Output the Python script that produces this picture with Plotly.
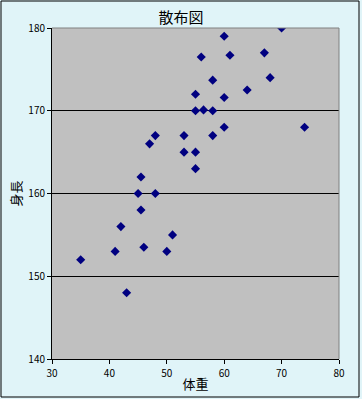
import plotly.graph_objects as go

# weight (kg) and height (cm)
weight = [70, 60, 56, 61, 67, 68, 58, 64, 55, 60, 55, 56.4, 58,
          74, 60, 48, 47, 53, 58, 53, 55, 55, 45.5, 45, 48, 45.5,
          42, 51, 46, 41, 50, 35, 43]
height = [180, 179, 176.5, 176.7, 177, 174, 173.7, 172.5, 172, 171.6, 170, 170.1, 170,
          168, 168, 167, 166, 167, 167, 165, 165, 163, 162, 160, 160, 158,
          156, 155, 153.5, 153, 153, 152, 148]

x_ticks = [30, 40, 50, 60, 70, 80]
y_ticks = [140, 150, 160, 170, 180]

W, H = 362, 399
L, R, T, B = 52, 23, 28, 40
pw, ph = W - L - R, H - T - B

def px(xp):
    return (xp - L) / pw

def py(yp):
    return (H - B - yp) / ph

fig = go.Figure(go.Scatter(
    x=weight, y=height, mode="markers",
    marker=dict(symbol="diamond", size=7, color="#000080"),
    hoverinfo="x+y",
))

tickfont = dict(family="Noto Sans CJK JP, DejaVu Sans", size=10, color="black")
fig.update_layout(
    width=W, height=H,
    margin=dict(l=L, r=R, t=T, b=B, autoexpand=False),
    paper_bgcolor="#e0f4f8",
    plot_bgcolor="#c0c0c0",
    showlegend=False,
    title=dict(text="散布図", x=0.5, xanchor="center", y=1 - 18 / H, yanchor="middle",
               yref="container",
               font=dict(family="Noto Sans CJK JP", size=15, color="black")),
    xaxis=dict(range=[30, 80], tickvals=x_ticks, showgrid=False, zeroline=False,
               showline=True, linecolor="black", linewidth=1,
               ticks="outside", ticklen=4, tickcolor="black",
               ticklabelstandoff=1, automargin=False,
               tickfont=tickfont,
               title=dict(text="体重", standoff=0,
                          font=dict(family="Noto Sans CJK JP", size=13, color="black"))),
    yaxis=dict(range=[140, 180], tickvals=y_ticks, showgrid=True, gridcolor="black",
               gridwidth=1, zeroline=False,
               showline=True, linecolor="black", linewidth=1,
               ticks="outside", ticklen=4, tickcolor="black",
               automargin=False,
               tickfont=tickfont,
               title=dict(text="身長", standoff=3,
                          font=dict(family="Noto Sans CJK JP", size=13, color="black"))),
    shapes=[
        # plot-area top and right border (gray)
        dict(type="line", xref="paper", yref="paper", x0=0, x1=1, y0=1, y1=1,
             line=dict(color="#808080", width=1), layer="above"),
        dict(type="line", xref="paper", yref="paper", x0=1, x1=1, y0=0, y1=1,
             line=dict(color="#808080", width=1), layer="above"),
        # outer chart frame
        dict(type="rect", xref="paper", yref="paper",
             x0=px(1), x1=px(359), y0=py(397), y1=py(1),
             line=dict(color="black", width=1), fillcolor="rgba(0,0,0,0)", layer="above"),
    ],
)

fig.write_html("out.html", config={"displayModeBar": False},
               post_script="document.body.style.margin='0';document.body.style.overflow='hidden';")
